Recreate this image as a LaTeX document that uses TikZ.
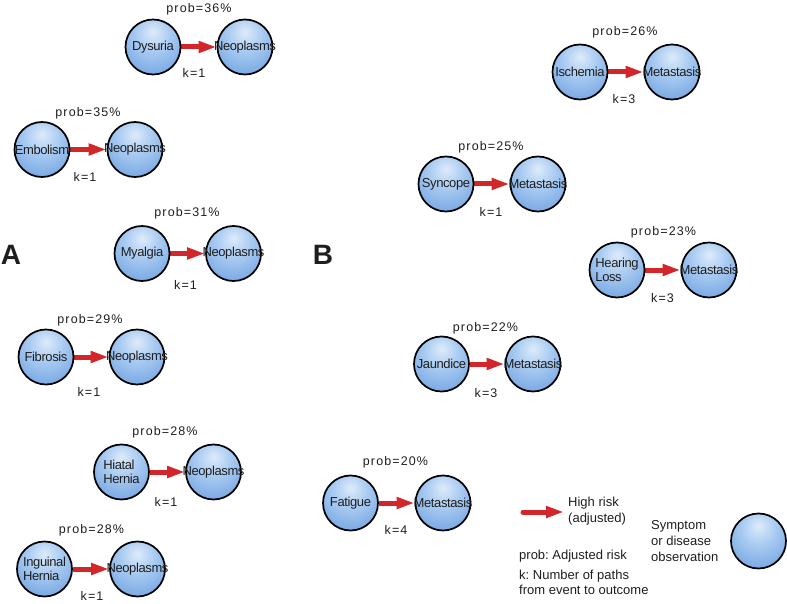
\documentclass[tikz,border=0pt]{standalone}
\usepackage{fontspec}
\setmainfont{Liberation Sans}
\newfontfamily\spacedfont[LetterSpace=9]{Liberation Sans}
\newfontfamily\tightfont[LetterSpace=-3]{Liberation Sans}
\usetikzlibrary{arrows.meta,backgrounds}
\definecolor{ballA}{HTML}{DDEBFA}
\definecolor{ballB}{HTML}{A8CAF1}
\definecolor{ballC}{HTML}{6C9FE0}
\definecolor{ballD}{HTML}{3A70C4}
\definecolor{riskred}{HTML}{D2262B}
\definecolor{txt}{HTML}{1E1E1E}
\pgfdeclareradialshading{bubble}{\pgfpoint{0bp}{14bp}}{color(0bp)=(ballA); color(16bp)=(ballB); color(40bp)=(ballC); color(64bp)=(ballD); color(100bp)=(ballD)}
\tikzset{
  ball/.style={circle, minimum size=55pt, inner sep=0pt, draw=black, line width=1.7pt,
    shade, shading=bubble},
  lab/.style={inner sep=0pt, align=left, text=txt, font=\tightfont\fontsize{13}{14.5}\selectfont},
  named/.style={label={[lab]center:#1}},
  risk/.style={draw=riskred, line width=5pt, -{Triangle[length=18pt,width=11pt]}},
  info/.style={inner sep=0pt, text=txt, font=\spacedfont\fontsize{12.5}{14}\selectfont},
  legend/.style={inner sep=0pt, anchor=west, align=left, text=txt, font=\fontsize{13}{16}\selectfont},
  panel/.style={inner sep=0pt, text=txt, font=\bfseries\fontsize{28}{30}\selectfont}
}
\frenchspacing
\begin{document}
\begin{tikzpicture}[x=1pt,y=-1pt]
\useasboundingbox (0,0) rectangle (787,604);
% panel labels
\node[panel] (labA) at (11,255) {A};
\node[panel] (labB) at (323,255) {B};
% ---------- Panel A ----------
\node[ball, named=Dysuria] (a1s) at (153,47) {};
\node[ball, named=Neoplasms] (a1t) at (245,47) {};
\node[info] (a1p) at (199,9) {prob=36\%};
\node[info] (a1k) at (194,73) {k=1};

\node[ball, named=Embolism] (a2s) at (42,149.5) {};
\node[ball, named=Neoplasms] (a2t) at (135,149.5) {};
\node[info] (a2p) at (88,113) {prob=35\%};
\node[info] (a2k) at (85,177) {k=1};

\node[ball, named=Myalgia] (a3s) at (142,253.5) {};
\node[ball, named=Neoplasms] (a3t) at (233.5,253.5) {};
\node[info] (a3p) at (187,213) {prob=31\%};
\node[info] (a3k) at (185.5,285) {k=1};

\node[ball, named=Fibrosis] (a4s) at (46,357) {};
\node[ball, named=Neoplasms] (a4t) at (137,357) {};
\node[info] (a4p) at (90,320) {prob=29\%};
\node[info] (a4k) at (89,392) {k=1};

\node[ball, named={Hiatal\\Hernia}] (a5s) at (121.5,472) {};
\node[ball, named=Neoplasms] (a5t) at (213.5,472) {};
\node[info] (a5p) at (165,432) {prob=28\%};
\node[info] (a5k) at (166,502) {k=1};

\node[ball, named={Inguinal\\Hernia}] (a6s) at (44.5,569) {};
\node[ball, named=Neoplasms] (a6t) at (137.5,569) {};
\node[info] (a6p) at (91.5,530) {prob=28\%};
\node[info] (a6k) at (92,596) {k=1};
% ---------- Panel B ----------
\node[ball, named=Ischemia] (b1s) at (580,72) {};
\node[ball, named=Metastasis] (b1t) at (672,72) {};
\node[info] (b1p) at (625,32.5) {prob=26\%};
\node[info] (b1k) at (624,99.5) {k=3};

\node[ball, named=Syncope] (b2s) at (446,184) {};
\node[ball, named=Metastasis] (b2t) at (538,184) {};
\node[info] (b2p) at (491,147) {prob=25\%};
\node[info] (b2k) at (491,212) {k=1};

\node[ball, named={Hearing\\Loss}] (b3s) at (617,270) {};
\node[ball, named=Metastasis] (b3t) at (709,270) {};
\node[info] (b3p) at (663.5,232) {prob=23\%};
\node[info] (b3k) at (662.5,298) {k=3};

\node[ball, named=Jaundice] (b4s) at (441.5,364) {};
\node[ball, named=Metastasis] (b4t) at (533,364) {};
\node[info] (b4p) at (485.5,328) {prob=22\%};
\node[info] (b4k) at (486,393) {k=3};

\node[ball, named=Fatigue] (b5s) at (350.5,503) {};
\node[ball, named=Metastasis] (b5t) at (443,503) {};
\node[info] (b5p) at (395.5,462) {prob=20\%};
\node[info] (b5k) at (396,529.5) {k=4};
% ---------- arrows (behind the circles) ----------
\begin{scope}[on background layer]
\draw[risk] (a1s) -- (a1t);
\draw[risk] (a2s) -- (a2t);
\draw[risk] (a3s) -- (a3t);
\draw[risk] (a4s) -- (a4t);
\draw[risk] (a5s) -- (a5t);
\draw[risk] (a6s) -- (a6t);
\draw[risk] (b1s) -- (b1t);
\draw[risk] (b2s) -- (b2t);
\draw[risk] (b3s) -- (b3t);
\draw[risk] (b4s) -- (b4t);
\draw[risk] (b5s) -- (b5t);
\end{scope}
% ---------- Legend ----------
\coordinate (la1) at (523,512);
\coordinate (la2) at (564,512);
\draw[risk, line cap=round] (la1) -- (la2);
\node[legend] (lhr) at (568,511) {High risk\\(adjusted)};
\node[legend] (lsym) at (651,541) {Symptom\\or disease\\observation};
\node[ball] (lball) at (758.5,541) {};
\node[legend] (lprob) at (519,556) {prob: Adjusted risk};
\node[legend, font=\fontsize{13}{15}\selectfont] (lk) at (519,582) {k: Number of paths\\from event to outcome};
\end{tikzpicture}
\end{document}
